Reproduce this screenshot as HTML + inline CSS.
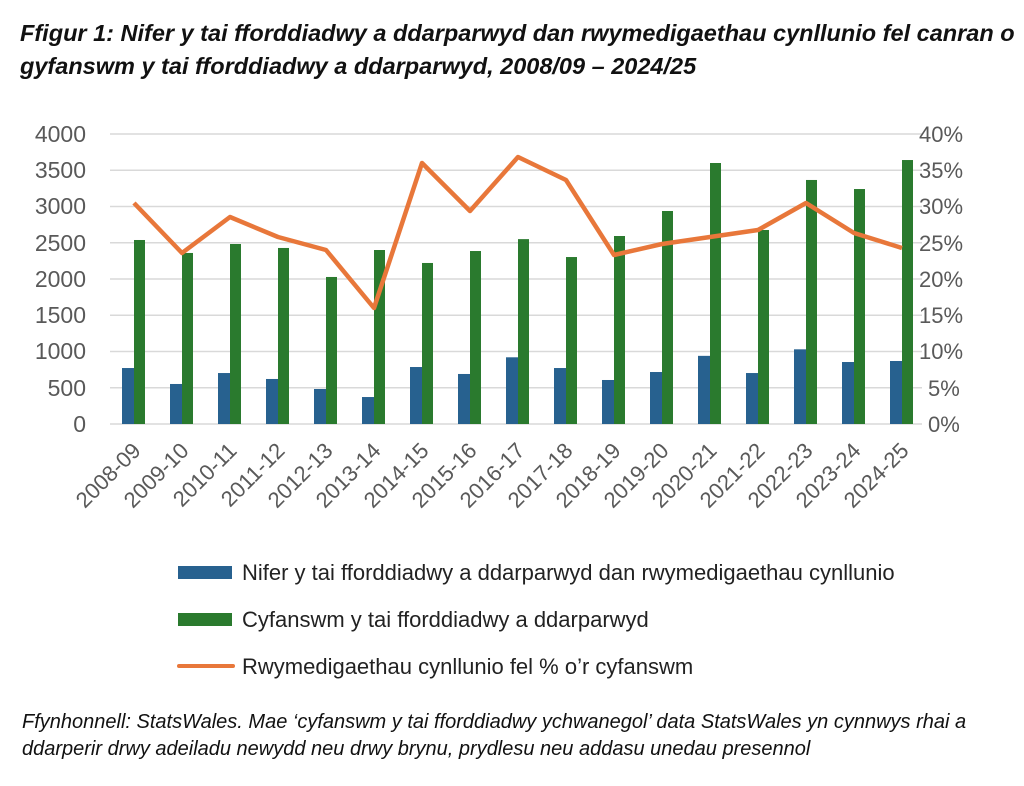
<!DOCTYPE html>
<html><head><meta charset="utf-8"><style>
body{margin:0;background:#fff;width:1024px;height:786px;overflow:hidden;font-family:"Liberation Sans",sans-serif}
.t{position:absolute;left:20px;top:17px;font-style:italic;font-weight:bold;font-size:23.5px;line-height:33px;color:#111;width:1004px}
.f{position:absolute;left:22px;top:709px;font-style:italic;font-size:20px;line-height:27px;color:#111;white-space:nowrap}
</style></head><body>
<div class="t">Ffigur 1: Nifer y tai fforddiadwy a ddarparwyd dan rwymedigaethau cynllunio fel canran o gyfanswm y tai fforddiadwy a ddarparwyd, 2008/09 – 2024/25</div>
<svg width="1024" height="786" style="position:absolute;left:0;top:0" font-family="Liberation Sans, sans-serif">
<g stroke="#d9d9d9" stroke-width="1.5">
<line x1="110" x2="922" y1="134" y2="134"/><line x1="110" x2="922" y1="170.25" y2="170.25"/><line x1="110" x2="922" y1="206.5" y2="206.5"/><line x1="110" x2="922" y1="242.75" y2="242.75"/><line x1="110" x2="922" y1="279" y2="279"/><line x1="110" x2="922" y1="315.25" y2="315.25"/><line x1="110" x2="922" y1="351.5" y2="351.5"/><line x1="110" x2="922" y1="387.75" y2="387.75"/><line x1="110" x2="922" y1="424" y2="424"/>
</g>
<g fill="#595959" font-size="23" text-anchor="end">
<text x="86" y="142">4000</text><text x="86" y="178">3500</text><text x="86" y="214">3000</text><text x="86" y="251">2500</text><text x="86" y="287">2000</text><text x="86" y="323">1500</text><text x="86" y="359">1000</text><text x="86" y="396">500</text><text x="86" y="432">0</text>
</g>
<g fill="#595959" font-size="22">
<text x="919" y="142">40%</text><text x="919" y="178">35%</text><text x="919" y="214">30%</text><text x="919" y="251">25%</text><text x="919" y="287">20%</text><text x="919" y="323">15%</text><text x="919" y="359">10%</text><text x="928" y="396">5%</text><text x="928" y="432">0%</text>
</g>
<g id="bars"></g>
<polyline fill="none" stroke="#e8773a" stroke-width="4.5" stroke-linejoin="round" points="134,203 182,253 230,217 278,237 326,250 374,308 422,163 470,211 518,157 566,180 614,255 662,244 710,237 758,230 806,203 854,233 902,248"/>
<g id="xl" fill="#595959" font-size="22" text-anchor="end"></g>
<rect x="178" y="566" width="54" height="13" fill="#27618f"/>
<rect x="178" y="613" width="54" height="13" fill="#2a7a2e"/>
<line x1="179" x2="233" y1="666" y2="666" stroke="#e8773a" stroke-width="4" stroke-linecap="round"/>
<g fill="#222" font-size="22">
<text x="242" y="580">Nifer y tai fforddiadwy a ddarparwyd dan rwymedigaethau cynllunio</text>
<text x="242" y="627">Cyfanswm y tai fforddiadwy a ddarparwyd</text>
<text x="242" y="674">Rwymedigaethau cynllunio fel % o’r cyfanswm</text>
</g>
</svg>
<div class="f">Ffynhonnell: StatsWales. Mae ‘cyfanswm y tai fforddiadwy ychwanegol’ data StatsWales yn cynnwys rhai a<br>ddarperir drwy adeiladu newydd neu drwy brynu, prydlesu neu addasu unedau presennol</div>
<script>
var b=[772,552,703,621,483,372,786,690,920,772,607,717,940,703,1030,855,869];
var g=[2538,2359,2483,2428,2028,2400,2221,2386,2550,2303,2593,2938,3600,2676,3366,3241,3641];
var lab=["2008-09","2009-10","2010-11","2011-12","2012-13","2013-14","2014-15","2015-16","2016-17","2017-18","2018-19","2019-20","2020-21","2021-22","2022-23","2023-24","2024-25"];
var s="",l="";
for(var i=0;i<17;i++){var x=122+48*i;var hb=b[i]*0.0725,hg=g[i]*0.0725;
s+='<rect x="'+x+'" y="'+(424-hb)+'" width="12" height="'+hb+'" fill="#27618f"/>';
s+='<rect x="'+(x+12)+'" y="'+(424-hg)+'" width="11" height="'+hg+'" fill="#2a7a2e"/>';
l+='<text transform="translate('+(x+20)+',452) rotate(-45)">'+lab[i]+'</text>';}
document.getElementById("bars").innerHTML=s;document.getElementById("xl").innerHTML=l;
</script>
</body></html>
